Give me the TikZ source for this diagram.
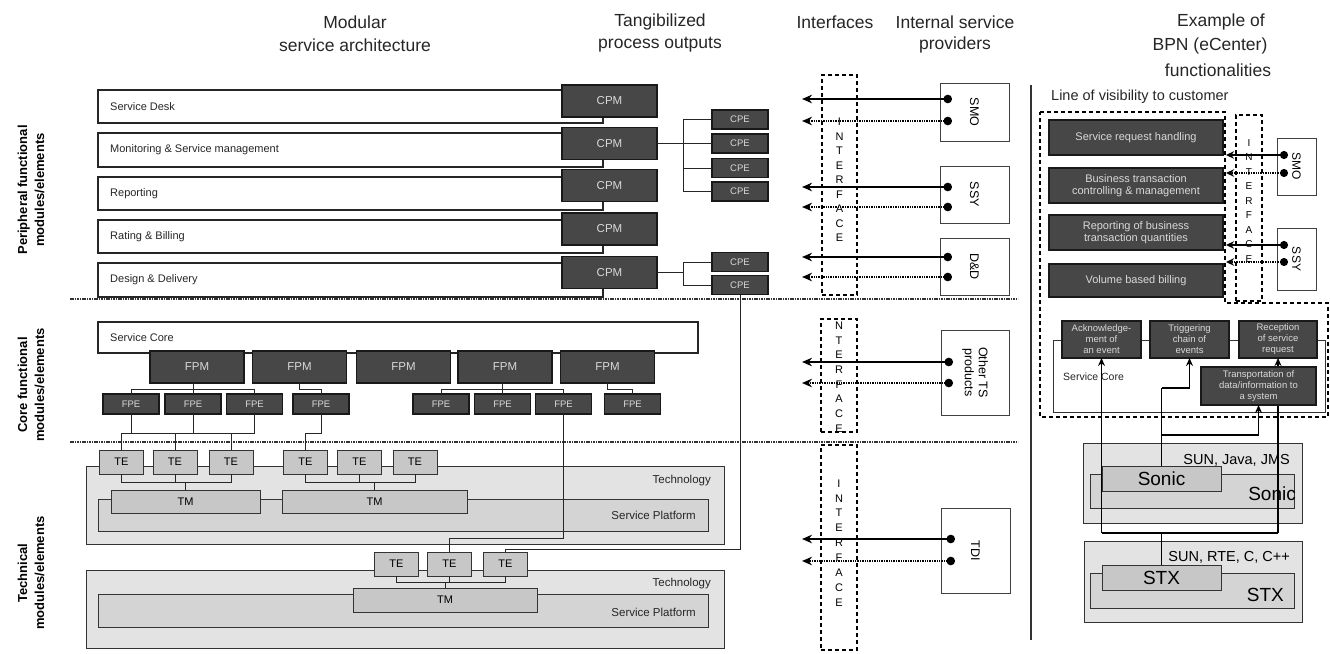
\documentclass[tikz,border=0pt]{standalone}
\usepackage{fontspec}
\setmainfont{Liberation Sans}
\usetikzlibrary{arrows.meta}
\newcommand{\fsz}[2]{\fontsize{#1}{#2}\selectfont}
\begin{document}
\begin{tikzpicture}[x=1pt,y=-1pt,
  sz/.style 2 args={minimum width=#1pt, minimum height=#2pt},
  box/.style={draw, inner sep=0pt, outer sep=0pt},
  dark/.style={box, draw=black!90, fill=black!72, text=black!15, line width=1.1pt},
  cpm/.style={dark, sz={95}{32}, font=\fsz{11.5}{13}},
  fpm/.style={dark, sz={94}{32}, font=\fsz{11.5}{13}},
  cpe/.style={dark, sz={56}{19}, font=\fsz{9.5}{11}},
  fpe/.style={dark, sz={56}{20}, font=\fsz{9.5}{11}},
  rdark/.style={dark, align=center, font=\fsz{11}{12.5}},
  sdark/.style={dark, align=center, font=\fsz{9.5}{11}},
  rowbox/.style={box, draw=black!85, fill=white, line width=1.1pt},
  rowtxt/.style={anchor=west, font=\fsz{11}{13}, text=black!85, inner sep=0pt},
  techout/.style={box, draw=black!80, fill=black!11, line width=1pt},
  techin/.style={box, draw=black!80, fill=black!17, line width=1pt},
  te/.style={box, draw=black!80, fill=black!22, line width=1pt, sz={44}{24}, font=\fsz{11}{13}},
  tm/.style={box, draw=black!80, fill=black!22, line width=1pt, font=\fsz{11}{13}},
  techtxt/.style={anchor=east, font=\fsz{11.5}{13}, text=black!85, inner sep=0pt},
  prov/.style={box, draw=black!75, fill=white, line width=1pt},
  provtxt/.style={rotate=-90, align=center, font=\fsz{12.5}{14}, inner sep=0pt},
  hdr/.style={font=\fsz{17.5}{20}, text=black!85, inner sep=0pt},
  side/.style={rotate=90, align=center, font=\bfseries\fsz{13}{17}, inner sep=0pt},
  wire/.style={draw=black!85, line width=0.9pt},
  sep/.style={draw=black!80, line width=1.6pt, dash pattern=on 1.6pt off 0.8pt},
  ifbox/.style={box, draw=black, line width=1.4pt, dash pattern=on 4pt off 3pt, fill=none},
  ifline/.style={draw=black, line width=1.4pt, dash pattern=on 4pt off 3pt},
  flow/.style={line width=2pt, black, {Circle[length=8.5pt]}-{Stealth[length=10pt,width=8.5pt]}},
  flowd/.style={flow, dash pattern=on 1.4pt off 1pt},
  rflow/.style={line width=1.8pt, black, {Circle[length=8pt]}-{Stealth[length=8pt,width=7.5pt]}},
  rflowd/.style={rflow, dash pattern=on 1.4pt off 1pt},
  link/.style={line width=1.5pt, black},
  arr/.style={link, -{Stealth[length=8pt,width=7pt]}}
]
\fill[white] (0,0) rectangle (1330,653);
\useasboundingbox (0,0) rectangle (1330,653);

% column headings
\node[hdr] (hA1) at (355,22) {Modular};
\node[hdr] (hA2) at (355,45) {service architecture};
\node[hdr] (hB1) at (660,22) {Tangibilized};
\node[hdr] (hB2) at (660,45) {process outputs};
\node[hdr] (hC) at (835,22) {Interfaces};
\node[hdr] (hD1) at (955,22) {Internal service};
\node[hdr] (hD2) at (955,45) {providers};
\node[hdr] (hE1) at (1221,22) {Example of};
\node[hdr] (hE2) at (1210,46) {BPN (eCenter)};
\node[hdr] (hE3) at (1218,70) {functionalities};

% layer labels
\node[side] (sP) at (31,190) {Peripheral functional\\modules/elements};
\node[side] (sC) at (31,385) {Core functional\\modules/elements};
\node[side] (sT) at (31,573) {Technical\\modules/elements};

% layer separators
\draw[sep] (70,299) -- (1018,299);
\draw[sep] (70,442) -- (1018,442);
\draw[black!80, line width=1.2pt] (1031,85) -- (1031,640);

% peripheral functional modules
\node[rowbox, sz={505}{33}] (r1) at (350.5,106.5) {};
\node[rowbox, sz={505}{34}] (r2) at (350.5,150) {};
\node[rowbox, sz={505}{33}] (r3) at (350.5,193.5) {};
\node[rowbox, sz={505}{33}] (r4) at (350.5,236.5) {};
\node[rowbox, sz={505}{34}] (r5) at (350.5,280) {};
\node[rowtxt] (r1t) at ([xshift=12pt]r1.west) {Service Desk};
\node[rowtxt] (r2t) at ([xshift=12pt]r2.west) {Monitoring \& Service management};
\node[rowtxt] (r3t) at ([xshift=12pt]r3.west) {Reporting};
\node[rowtxt] (r4t) at ([xshift=12pt]r4.west) {Rating \& Billing};
\node[rowtxt] (r5t) at ([xshift=12pt]r5.west) {Design \& Delivery};

\node[cpm] (cpm1) at (609.5,101) {CPM};
\node[cpm] (cpm2) at (609.5,143.5) {CPM};
\node[cpm] (cpm3) at (609.5,185.5) {CPM};
\node[cpm] (cpm4) at (609.5,229) {CPM};
\node[cpm] (cpm5) at (609.5,272.5) {CPM};

\node[cpe] (cpe1) at (740,119.5) {CPE};
\node[cpe] (cpe2) at (740,143.5) {CPE};
\node[cpe] (cpe3) at (740,168) {CPE};
\node[cpe] (cpe4) at (740,191.5) {CPE};
\node[cpe] (cpe5) at (740,262) {CPE};
\node[cpe] (cpe6) at (740,285) {CPE};

\coordinate (pb) at (683,0);
\draw[wire] (cpm2.east) -- (cpm2.east -| pb);
\draw[wire] (pb |- cpe1) -- (pb |- cpe4);
\foreach \k in {1,2,3,4} \draw[wire] (pb |- cpe\k) -- (cpe\k.west);
\draw[wire] (cpm5.east) -- (cpm5.east -| pb);
\draw[wire] (pb |- cpe5) -- (pb |- cpe6);
\foreach \k in {5,6} \draw[wire] (pb |- cpe\k) -- (cpe\k.west);

% core functional modules
\node[rowbox, sz={600}{31}] (sc) at (398,337.5) {};
\node[rowtxt] (sct) at ([xshift=12pt]sc.west) {Service Core};
\node[fpm] (fpm1) at (197,367) {FPM};
\node[fpm] (fpm2) at (299.5,367) {FPM};
\node[fpm] (fpm3) at (403.5,367) {FPM};
\node[fpm] (fpm4) at (505,367) {FPM};
\node[fpm] (fpm5) at (607.5,367) {FPM};
\node[fpe] (fpe1) at (131,404) {FPE};
\node[fpe] (fpe2) at (193,404) {FPE};
\node[fpe] (fpe3) at (254.5,404) {FPE};
\node[fpe] (fpe4) at (321,404) {FPE};
\node[fpe] (fpe5) at (441,404) {FPE};
\node[fpe] (fpe6) at (502.5,404) {FPE};
\node[fpe] (fpe7) at (563.5,404) {FPE};
\node[fpe] (fpe8) at (632.5,404) {FPE};

\coordinate (fb) at (0,389);
\draw[wire] (fpm1.south -| fpe2) -- (fpe2.north);
\draw[wire] (fpe1.north) -- (fpe1.north |- fb) -- (fpe3.north |- fb) -- (fpe3.north);
\draw[wire] (fpm2.south) -- (fpm2.south |- fb) -- (fpe4.north |- fb) -- (fpe4.north);
\draw[wire] (fpm4.south -| fpe6) -- (fpe6.north);
\draw[wire] (fpe5.north) -- (fpe5.north |- fb) -- (fpe7.north |- fb) -- (fpe7.north);
\draw[wire] (fpm5.south) -- (fpm5.south |- fb) -- (fpe8.north |- fb) -- (fpe8.north);

% technical modules, first platform
\node[techout, sz={638}{78}] (t1o) at (405,505) {};
\node[techin, sz={610}{32}] (t1i) at (403,515) {};
\node[techtxt] (t1a) at (711,481) {Technology};
\node[techtxt] (t1b) at (696,515) {Service Platform};
\node[tm, sz={149}{23}] (tm1) at (185.5,501.5) {TM};
\node[tm, sz={185}{23}] (tm2) at (374.5,501.5) {TM};
\node[te] (ta1) at (121.5,462) {TE};
\node[te] (ta2) at (175,462) {TE};
\node[te] (ta3) at (231,462) {TE};
\node[te] (ta4) at (305.5,462) {TE};
\node[te] (ta5) at (359.5,462) {TE};
\node[te] (ta6) at (415,462) {TE};
\draw[wire] (ta1.south) -- ++(0,8) -| (ta3.south);
\draw[wire] (ta2.south) -- ++(0,8);
\draw[wire] (tm1.north) -- (tm1.north |- 0,482);
\draw[wire] (ta4.south) -- ++(0,8) -| (ta6.south);
\draw[wire] (ta5.south) -- ++(0,8);
\draw[wire] (tm2.north) -- (tm2.north |- 0,482);

% technical modules, second platform
\node[techout, sz={638}{78}] (t2o) at (405,609) {};
\node[techin, sz={610}{33}] (t2i) at (403,610.5) {};
\node[techtxt] (t2a) at (711,584) {Technology};
\node[techtxt] (t2b) at (696,612) {Service Platform};
\node[tm, sz={184}{24}] (tm3) at (445,600) {TM};
\node[te] (tb1) at (396.5,564) {TE};
\node[te] (tb2) at (449.5,564) {TE};
\node[te] (tb3) at (505.5,564) {TE};
\draw[wire] (tb1.south) -- ++(0,6) -| (tb3.south);
\draw[wire] (tb2.south) -- ++(0,6);
\draw[wire] (tm3.north) -- (tm3.north |- 0,582);

% core elements down to technical elements
\coordinate (tb) at (0,433);
\draw[wire] (fpe1.south) -- (fpe1.south |- tb);
\draw[wire] (fpe2.south) -- (fpe2.south |- tb);
\draw[wire] (fpe3.south) -- (fpe3.south |- tb);
\draw[wire] (ta1.north |- tb) -- (fpe3.south |- tb);
\draw[wire] (ta1.north |- tb) -- (ta1.north);
\draw[wire] (ta2.north |- tb) -- (ta2.north);
\draw[wire] (ta3.north |- tb) -- (ta3.north);
\draw[wire] (fpe4.south) -- (fpe4.south |- tb) -- (ta4.north |- tb) -- (ta4.north);
\draw[wire] (fpe7.south) -- (fpe7.south |- 0,538) -- (tb2.north |- 0,538) -- (tb2.north);
\draw[wire] (cpe6.south) -- (cpe6.south |- 0,549) -- (tb3.north |- 0,549) -- (tb3.north);

% interfaces
\node[ifbox, sz={35}{220}] (if1) at (839.5,185) {};
\node[align=center, font=\fsz{11}{14.5}, inner sep=0pt] (if1t) at (839.5,180) {I\\N\\T\\E\\R\\F\\A\\C\\E};
\node[ifbox, sz={36}{113}] (if2) at (839,375.5) {};
\node[align=center, font=\fsz{11}{14.7}, inner sep=0pt] (if2t) at (839,377) {N\\T\\E\\R\\F\\A\\C\\E};
\node[ifbox, sz={36}{205}] (if3) at (839,547.5) {};
\node[align=center, font=\fsz{11}{14.9}, inner sep=0pt] (if3t) at (839,543) {I\\N\\T\\E\\R\\F\\A\\C\\E};

% internal service providers
\node[prov, sz={69}{58}] (smo) at (974.5,112) {};
\node[provtxt] (smot) at (smo) {SMO};
\node[prov, sz={69}{57}] (ssy) at (974.5,194.5) {};
\node[provtxt] (ssyt) at (ssy) {SSY};
\node[prov, sz={69}{57}] (dd) at (974.5,266.5) {};
\node[provtxt] (ddt) at (dd) {D\&D};
\node[prov, sz={68}{85}] (ots) at (975,372.5) {};
\node[provtxt] (otst) at (ots) {Other TS\\products};
\node[prov, sz={69}{85}] (tdi) at (975.5,550.5) {};
\node[provtxt] (tdit) at (tdi) {TDI};

\coordinate (tipA) at (802,0);
\coordinate (smoS) at (952,99);  \coordinate (smoD) at (952,121);
\coordinate (ssyS) at (952,187); \coordinate (ssyD) at (952,207);
\coordinate (ddS) at (952,257);  \coordinate (ddD) at (952,277);
\coordinate (otsS) at (953,362); \coordinate (otsD) at (953,383);
\coordinate (tdiS) at (955,539); \coordinate (tdiD) at (955,561);
\foreach \p in {smo,ssy,dd,ots,tdi}{
  \draw[flow] (\p S) -- (\p S -| tipA);
  \draw[flowd] (\p D) -- (\p D -| tipA);
}

% eCenter example: customer-facing functions
\node[anchor=west, font=\fsz{14.5}{17}, text=black!85, inner sep=0pt] (lov) at (1051,97) {Line of visibility to customer};
\draw[ifline] (1040,112) -- (1225,112) -- (1225,303) -- (1328,303) -- (1328,417) -- (1040,417) -- cycle;
\node[rdark, sz={174}{35}] (rb1) at (1136,137.5) {Service request handling};
\node[rdark, sz={174}{35}] (rb2) at (1136,185.5) {Business transaction\\controlling \& management};
\node[rdark, sz={174}{35}] (rb3) at (1136,232.5) {Reporting of business\\transaction quantities};
\node[rdark, sz={174}{33}] (rb4) at (1136,280.5) {Volume based billing};
\node[ifbox, sz={26}{186}] (if4) at (1249,208) {};
\node[align=center, font=\fsz{10}{14.5}, inner sep=0pt] (if4t) at (1249,201) {I\\N\\T\\E\\R\\F\\A\\C\\E};
\node[prov, sz={39}{57}] (smo2) at (1296.5,166.5) {};
\node[provtxt, font=\fsz{12}{14}] (smo2t) at (smo2) {SMO};
\node[prov, sz={39}{62}] (ssy2) at (1296.5,259) {};
\node[provtxt, font=\fsz{12}{14}] (ssy2t) at (ssy2) {SSY};
\coordinate (tipB) at (1226,0);
\coordinate (smo2S) at (1288,155); \coordinate (smo2D) at (1288,173);
\coordinate (ssy2S) at (1288,245); \coordinate (ssy2D) at (1288,262);
\foreach \p in {smo2,ssy2}{
  \draw[rflow] (\p S) -- (\p S -| tipB);
  \draw[rflowd] (\p D) -- (\p D -| tipB);
}

% eCenter example: service core
\node[box, draw=black!80, line width=0.9pt, sz={272}{72}] (sc2) at (1189,376) {};
\node[anchor=west, font=\fsz{10.5}{12}, text=black!85, inner sep=0pt] (sc2t) at (1063,377) {Service Core};
\node[sdark, sz={79}{37}] (ack) at (1101.5,339.5) {Acknowledge-\\ment of\\an event};
\node[sdark, sz={79}{37}] (trig) at (1189.5,339.5) {Triggering\\chain of\\events};
\node[sdark, sz={78}{37}] (recep) at (1278,339.5) {Reception\\of service\\request};

% eCenter example: technology
\node[techout, sz={219}{80}] (sono) at (1192.5,483) {};
\node[techin, sz={204}{34}] (soni) at (1192,491) {};
\node[tm, sz={119}{25}, font=\fsz{19}{21}] (sonu) at (1161.5,478.5) {Sonic};
\node[anchor=east, font=\fsz{14.5}{16}, inner sep=0pt] (sonj) at (1290,460) {SUN, Java, JMS};
\node[anchor=east, font=\fsz{19}{21}, inner sep=0pt] (sonl) at (1296,494) {Sonic};
\node[techout, sz={218}{81}] (stxo) at (1193,581.5) {};
\node[techin, sz={204}{35}] (stxi) at (1192,590.5) {};
\node[tm, sz={119}{25}, font=\fsz{19}{21}] (stxu) at (1161.5,577.5) {STX};
\node[anchor=east, font=\fsz{14.5}{16}, inner sep=0pt] (stxj) at (1290,557) {SUN, RTE, C, C++};
\node[anchor=east, font=\fsz{19}{21}, inner sep=0pt] (stxl) at (1284,595) {STX};

\coordinate (stxbus) at (0,533);
\draw[link] (stxu.north) -- (stxu.north |- stxbus);
\draw[link] (ack.south |- stxbus) -- (recep.south |- stxbus);
\draw[arr] (ack.south |- stxbus) -- (ack.south);
\draw[arr] (recep.south |- stxbus) -- (recep.south);

\node[sdark, sz={115}{38}] (trans) at (1258.5,386) {Transportation of\\data/information to\\a system};

\draw[link] (sonu.north) -- (sonu.north |- 0,388);
\draw[arr] (sonu.north |- 0,388) -| (trig.south);
\draw[arr] (sonu.north |- 0,435) -| (trans.south);
\end{tikzpicture}
\end{document}
